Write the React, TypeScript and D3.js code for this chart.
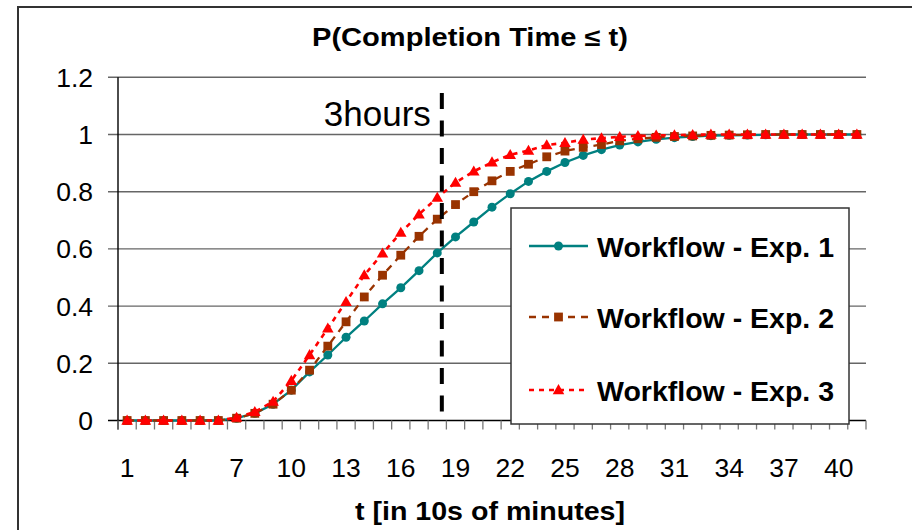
import React from "react";
import * as d3 from "d3";

const categories: number[] = Array.from({ length: 41 }, (_, i) => i + 1);
const tickLabels: number[] = [1, 4, 7, 10, 13, 16, 19, 22, 25, 28, 31, 34, 37, 40];
const yTicks: number[] = [0, 0.2, 0.4, 0.6, 0.8, 1, 1.2];

const exp1: number[] = [0, 0, 0, 0, 0, 0, 0.008, 0.025, 0.057, 0.106, 0.17, 0.229, 0.291, 0.348, 0.408, 0.464, 0.524, 0.586, 0.642, 0.694, 0.746, 0.793, 0.836, 0.871, 0.902, 0.927, 0.947, 0.963, 0.974, 0.983, 0.989, 0.993, 0.996, 0.997, 0.998, 0.999, 1, 1, 1, 1, 1];
const exp2: number[] = [0, 0, 0, 0, 0, 0, 0.008, 0.025, 0.057, 0.106, 0.176, 0.26, 0.345, 0.432, 0.508, 0.578, 0.644, 0.704, 0.755, 0.8, 0.838, 0.871, 0.896, 0.922, 0.942, 0.955, 0.965, 0.978, 0.985, 0.99, 0.993, 0.995, 0.997, 0.998, 0.999, 1, 1, 1, 1, 1, 1];
const exp3: number[] = [0, 0, 0, 0, 0, 0, 0.01, 0.03, 0.066, 0.139, 0.229, 0.322, 0.415, 0.508, 0.584, 0.657, 0.721, 0.779, 0.832, 0.871, 0.903, 0.929, 0.944, 0.963, 0.971, 0.982, 0.987, 0.992, 0.995, 0.997, 0.998, 0.999, 1, 1, 1, 1, 1, 1, 1, 1, 1];

const seriesNames: string[] = ["Workflow - Exp. 1", "Workflow - Exp. 2", "Workflow - Exp. 3"];
const markerT = 18.25; // 3 hours marker position on t axis
const markerLabel = "3hours";
const chartTitle = "P(Completion Time \u2264 t)";
const xTitle = "t [in 10s of minutes]";

const FONT = "'Liberation Sans', Arial, Helvetica, sans-serif";

const W = 912;
const H = 530;
const plot = { left: 118, right: 866, top: 77.3, bottom: 420.5 };

const styles = [
  { color: "#008080", dash: "", marker: "circle" },
  { color: "#993300", dash: "7,6", marker: "square" },
  { color: "#FF0000", dash: "5,5", marker: "triangle" },
];

function Marker({ type, x, y, color }: { type: string; x: number; y: number; color: string }) {
  if (type === "circle") return <circle cx={x} cy={y} r={4.5} fill={color} />;
  if (type === "square") return <rect x={x - 4.4} y={y - 4.4} width={8.8} height={8.8} fill={color} />;
  const s = d3.symbol().type(d3.symbolTriangle).size(58)();
  return <path d={s || ""} transform={`translate(${x},${y + 0.8})`} fill={color} />;
}

export default function App() {
  const x = d3.scaleLinear().domain([0.5, 41.5]).range([plot.left, plot.right]);
  const y = d3.scaleLinear().domain([0, 1.2]).range([plot.bottom, plot.top]);
  const data = [exp1, exp2, exp3];
  const line = d3
    .line<number>()
    .x((_, i) => x(categories[i]))
    .y((v) => y(v));
  const boundaries = d3.range(0.5, 42, 1);
  const mx = x(markerT);

  const legend = { x: 511, y: 208, w: 338, h: 216 };
  const rowY = [246, 317, 390];

  return (
    <svg width={W} height={H} style={{ position: "absolute", left: 0, top: 0, background: "#fff" }}>
      <rect x={18} y={7} width={W} height={H} fill="#fff" stroke="#333" strokeWidth={2} />
      <text x={470} y={46} textAnchor="middle" fontFamily={FONT} fontWeight="bold" fontSize={25} textLength={316} lengthAdjust="spacingAndGlyphs">
        {chartTitle}
      </text>

      {/* gridlines */}
      {yTicks.map((t) => (
        <line key={"g" + t} x1={plot.left - 10} x2={plot.right} y1={y(t)} y2={y(t)} stroke={t === 0 ? "#000" : "#666"} strokeWidth={t === 0 ? 1.6 : 1.4} />
      ))}
      {yTicks.map((t) => (
        <text key={"yl" + t} x={93} y={y(t)} dy="0.36em" textAnchor="end" fontFamily={FONT} fontSize={26.5}>
          {d3.format("~g")(t)}
        </text>
      ))}
      <line x1={plot.left} x2={plot.left} y1={plot.top} y2={plot.bottom + 9} stroke="#000" strokeWidth={1.4} />
      {boundaries.map((b) => (
        <line key={"xt" + b} x1={x(b)} x2={x(b)} y1={plot.bottom} y2={plot.bottom + 9} stroke="#777" strokeWidth={1.3} />
      ))}
      {tickLabels.map((t) => (
        <text key={"xl" + t} x={x(t)} y={476.5} textAnchor="middle" fontFamily={FONT} fontSize={26.5}>
          {t}
        </text>
      ))}
      <text x={490} y={520} textAnchor="middle" fontFamily={FONT} fontWeight="bold" fontSize={26.5} textLength={270} lengthAdjust="spacingAndGlyphs">
        {xTitle}
      </text>

      {/* series */}
      {data.map((vals, si) => (
        <g key={"s" + si}>
          <path d={line(vals) || ""} fill="none" stroke={styles[si].color} strokeWidth={si === 2 ? 2.6 : 2.3} strokeDasharray={styles[si].dash} />
          {vals.map((v, i) => (
            <Marker key={i} type={styles[si].marker} x={x(categories[i])} y={y(v)} color={styles[si].color} />
          ))}
        </g>
      ))}

      {/* 3 hours marker */}
      <line x1={mx} x2={mx} y1={y(1.145)} y2={y(0.01)} stroke="#000" strokeWidth={4} strokeDasharray="16,11.5" />
      <text x={mx - 11} y={y(1.03)} textAnchor="end" fontFamily={FONT} fontSize={35}>
        {markerLabel}
      </text>

      {/* legend */}
      <rect x={legend.x} y={legend.y} width={legend.w} height={legend.h} fill="#fff" stroke="#333" strokeWidth={1.5} />
      {seriesNames.map((name, si) => (
        <g key={"l" + si}>
          <line x1={529} x2={588} y1={rowY[si]} y2={rowY[si]} stroke={styles[si].color} strokeWidth={si === 2 ? 2.6 : 2.3} strokeDasharray={styles[si].dash} />
          <Marker type={styles[si].marker} x={558.5} y={rowY[si]} color={styles[si].color} />
          <text x={597} y={rowY[si] + 11} fontFamily={FONT} fontWeight="bold" fontSize={28.5}>
            {name}
          </text>
        </g>
      ))}
    </svg>
  );
}
